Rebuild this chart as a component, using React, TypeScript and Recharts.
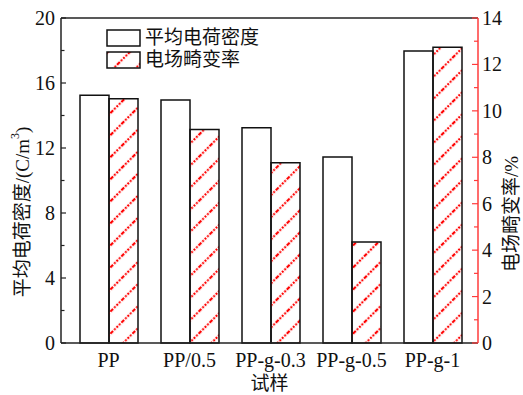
import { BarChart, Bar, XAxis, YAxis, ReferenceLine } from 'recharts';

const categories = ['PP', 'PP/0.5', 'PP-g-0.3', 'PP-g-0.5', 'PP-g-1'];
const chargeDensity = [15.25, 14.95, 13.25, 11.45, 17.97];
const distortionRate = [10.52, 9.2, 7.77, 4.35, 12.74];
const densityTicks = [0, 2, 4, 6, 8, 10, 12, 14, 16, 18, 20];
const distortionTicks = [0, 1, 2, 3, 4, 5, 6, 7, 8, 9, 10, 11, 12, 13, 14];

const data = categories.map((name, i) => ({
  name,
  density: chargeDensity[i],
  distortion: distortionRate[i],
}));

const SERIF = '"Liberation Serif", "Noto Sans CJK SC", serif';
const RED = '#ff0000';
const AXIS_RED = '#ff3b3b';

const HatchDefs = ({ id }: { id: string }) => (
  <defs>
    <pattern id={id} patternUnits="userSpaceOnUse" width={15.6} height={15.6} patternTransform="rotate(45)">
      <line x1={2} y1={0} x2={2} y2={15.6} stroke={RED} strokeWidth={2.2} strokeDasharray="2 1.4" />
    </pattern>
  </defs>
);

// ticks point inward; labels only on the major ticks
const LeftTick = ({ x, y, payload }: any) => {
  const major = payload.value % 4 === 0;
  return (
    <g>
      <line x1={x} x2={x + (major ? 5 : 3.5)} y1={y} y2={y} stroke="#222" strokeWidth={1.2} />
      {major && (
        <text x={x - 6} y={y} dy={7} textAnchor="end" fontSize={20} fontFamily={SERIF} fill="#111">
          {payload.value}
        </text>
      )}
    </g>
  );
};

const RightTick = ({ x, y, payload }: any) => {
  const major = payload.value % 2 === 0;
  return (
    <g>
      <line x1={x} x2={x - (major ? 6 : 4)} y1={y} y2={y} stroke={AXIS_RED} strokeWidth={1.2} />
      {major && (
        <text x={x + 4} y={y} dy={7} textAnchor="start" fontSize={20} fontFamily={SERIF} fill="#111">
          {payload.value}
        </text>
      )}
    </g>
  );
};

const LegendBox = ({ hatched, label }: { hatched: boolean; label: string }) => (
  <div style={{ display: 'flex', alignItems: 'center', height: 22 }}>
    <svg width={36} height={18} style={{ display: 'block' }}>
      {hatched && <HatchDefs id="legendHatch" />}
      <rect x={1} y={1} width={33} height={16} fill={hatched ? 'url(#legendHatch)' : '#fff'} stroke="#111" strokeWidth={1.5} />
    </svg>
    <span style={{ fontFamily: SERIF, fontSize: 19, marginLeft: 3, color: '#111', lineHeight: '22px' }}>{label}</span>
  </div>
);

export default function App() {
  return (
    <div style={{ position: 'absolute', left: 0, top: 0, width: 523, height: 395, background: '#fff' }}>
      <BarChart
        width={523}
        height={395}
        data={data}
        margin={{ top: 18, right: 0, bottom: 0, left: 0 }}
        barGap={0}
        barSize={29}
      >
        <HatchDefs id="barHatch" />
        <XAxis
          dataKey="name"
          height={52}
          padding={{ left: 7, right: 5 }}
          tickLine={false}
          axisLine={{ stroke: '#222', strokeWidth: 1.5 }}
          tick={{ fontSize: 20, fontFamily: SERIF, fill: '#111' }}
          tickMargin={4}
          label={{ value: '试样', position: 'insideBottom', offset: 5, fontSize: 19, fontFamily: SERIF, fill: '#111' }}
        />
        <YAxis
          yAxisId="left"
          width={61}
          domain={[0, 20]}
          ticks={densityTicks}
          interval={0}
          tickSize={0}
          tickMargin={0}
          tickLine={false}
          axisLine={{ stroke: '#222', strokeWidth: 1.5 }}
          tick={<LeftTick />}
          label={{
            content: () => (
              <text x={22} y={212} transform="rotate(-90 22 212)" textAnchor="middle" dominantBaseline="central" fontSize={19} fontFamily={SERIF} fill="#111">
                平均电荷密度/(C/m<tspan dy={-7} fontSize={12}>3</tspan><tspan dy={7}>)</tspan>
              </text>
            ),
          }}
        />
        <YAxis
          yAxisId="right"
          orientation="right"
          width={45}
          domain={[0, 14]}
          ticks={distortionTicks}
          interval={0}
          tickSize={0}
          tickMargin={0}
          tickLine={false}
          axisLine={{ stroke: AXIS_RED, strokeWidth: 1.5 }}
          tick={<RightTick />}
          label={{
            content: () => (
              <text x={511} y={214} transform="rotate(-90 511 214)" textAnchor="middle" dominantBaseline="central" fontSize={19} fontFamily={SERIF} fill="#111">
                电场畸变率/%
              </text>
            ),
          }}
        />
        <ReferenceLine yAxisId="left" y={20} stroke="#222" strokeWidth={1.5} />
        <Bar yAxisId="left" dataKey="density" fill="#fff" stroke="#111" strokeWidth={1.5} isAnimationActive={false} />
        <Bar yAxisId="right" dataKey="distortion" fill="url(#barHatch)" stroke="#111" strokeWidth={1.5} isAnimationActive={false} />
      </BarChart>
      <div style={{ position: 'absolute', left: 106, top: 27 }}>
        <LegendBox hatched={false} label="平均电荷密度" />
        <LegendBox hatched label="电场畸变率" />
      </div>
    </div>
  );
}
